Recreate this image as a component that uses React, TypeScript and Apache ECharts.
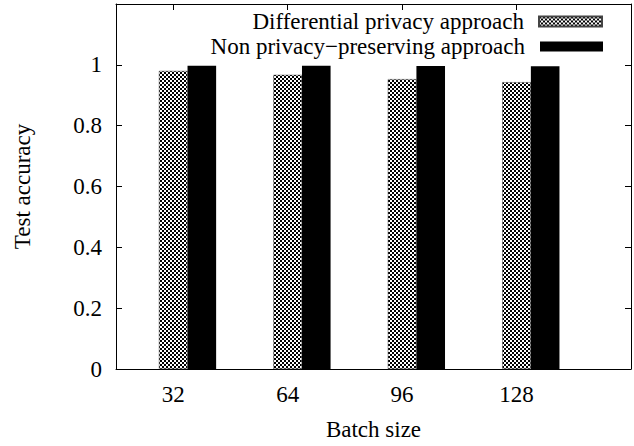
import React, { useEffect, useRef } from "react";
import * as echarts from "echarts";

const categories = ["32", "64", "96", "128"];
const dpValues = [0.98, 0.967, 0.953, 0.943];
const nonPrivValues = [0.997, 0.997, 0.996, 0.995];
const tickPositions = [0, 1, 2, 3];
const seriesNames = ["Differential privacy approach", "Non privacy\u2212preserving approach"];
const xLabel = "Batch size";
const yLabel = "Test accuracy";

const FONT = "'Liberation Serif', 'Times New Roman', serif";
const FS = 23;

function makePattern(): HTMLCanvasElement {
  const c = document.createElement("canvas");
  c.width = 4;
  c.height = 4;
  const ctx = c.getContext("2d")!;
  ctx.fillStyle = "#ffffff";
  ctx.fillRect(0, 0, 4, 4);
  ctx.fillStyle = "#000000";
  ctx.fillRect(0, 0, 2, 2);
  ctx.fillRect(2, 2, 2, 2);
  return c;
}

export default function App() {
  const ref = useRef<HTMLDivElement>(null);
  useEffect(() => {
    document.body.style.margin = "0";
    if (!ref.current) return;
    const chart = echarts.init(ref.current, undefined, { renderer: "svg" });
    const pattern = { image: makePattern(), repeat: "repeat" };
    const barW = 28.6;
    const axisLineStyle = { color: "#000", width: 1 };
    const legendCommon = {
      right: 31,
      padding: 0,
      align: "right",
      itemWidth: 63,
      itemHeight: 10,
      icon: "rect",
      selectedMode: false,
      textStyle: { fontFamily: FONT, fontSize: FS, color: "#000", padding: [0, 10, 0, 0] },
    };
    chart.setOption({
      animation: false,
      backgroundColor: "#fff",
      textStyle: { fontFamily: FONT, color: "#000" },
      grid: { left: 116, right: 3, top: 4, bottom: 70, containLabel: false },
      legend: [
        { ...legendCommon, data: [seriesNames[0]], top: 10 },
        { ...legendCommon, data: [seriesNames[1]], top: 35 },
      ],
      xAxis: [
        {
          type: "value",
          position: "bottom",
          min: -0.5,
          max: 4,
          name: xLabel,
          nameLocation: "middle",
          nameGap: 49,
          nameTextStyle: { fontFamily: FONT, fontSize: FS, color: "#000" },
          axisLine: { show: true, onZero: false, lineStyle: axisLineStyle },
          axisTick: { show: true, inside: true, length: 6, customValues: tickPositions, lineStyle: axisLineStyle },
          axisLabel: {
            show: true,
            customValues: tickPositions,
            margin: 14,
            fontFamily: FONT,
            fontSize: FS,
            color: "#000",
            formatter: (v: number) => categories[Math.round(v)] ?? "",
          },
          splitLine: { show: false },
        },
        {
          type: "value",
          position: "top",
          min: -0.5,
          max: 4,
          axisLine: { show: true, onZero: false, lineStyle: axisLineStyle },
          axisTick: { show: true, inside: true, length: 6, customValues: tickPositions, lineStyle: axisLineStyle },
          axisLabel: { show: false },
          splitLine: { show: false },
        },
      ],
      yAxis: [
        {
          type: "value",
          position: "left",
          min: 0,
          max: 1.2,
          interval: 0.2,
          name: yLabel,
          nameLocation: "middle",
          nameGap: 82,
          nameTextStyle: { fontFamily: FONT, fontSize: FS, color: "#000" },
          axisLine: { show: true, onZero: false, lineStyle: axisLineStyle },
          axisTick: { show: true, inside: true, length: 6, lineStyle: axisLineStyle },
          axisLabel: {
            margin: 14,
            fontFamily: FONT,
            fontSize: FS,
            color: "#000",
            formatter: (v: number) => (v > 1.05 ? "" : String(Math.round(v * 10) / 10)),
          },
          splitLine: { show: false },
        },
        {
          type: "value",
          position: "right",
          min: 0,
          max: 1.2,
          interval: 0.2,
          axisLine: { show: true, onZero: false, lineStyle: axisLineStyle },
          axisTick: { show: true, inside: true, length: 6, lineStyle: axisLineStyle },
          axisLabel: { show: false },
          splitLine: { show: false },
        },
      ],
      series: [
        {
          name: seriesNames[0],
          type: "bar",
          xAxisIndex: 0,
          yAxisIndex: 0,
          barWidth: barW,
          barGap: "-100%",
          itemStyle: { color: pattern, borderColor: "#444", borderWidth: 0.5 },
          data: categories.map((_, i) => [i, dpValues[i]]),
        },
        {
          name: seriesNames[1],
          type: "bar",
          xAxisIndex: 0,
          yAxisIndex: 0,
          barWidth: barW,
          barGap: "-100%",
          itemStyle: { color: "#000" },
          data: categories.map((_, i) => [i + 0.25, nonPrivValues[i]]),
        },
      ],
    });
    return () => chart.dispose();
  }, []);
  return <div ref={ref} style={{ width: 634, height: 446 }} />;
}
